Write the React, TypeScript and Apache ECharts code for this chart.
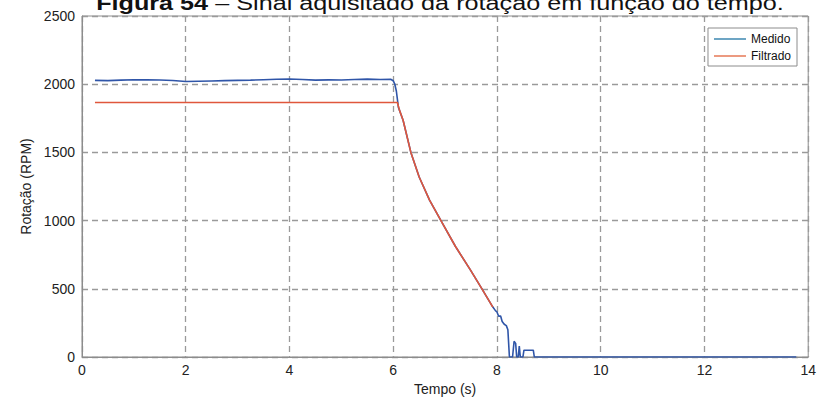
import React, { useEffect, useRef } from "react";
import * as echarts from "echarts";

const titleBold = "Figura 54";
const titleRest = " – Sinal aquisitado da rotação em função do tempo.";
const xAxisName = "Tempo (s)";
const yAxisName = "Rotação (RPM)";
const seriesNames = ["Medido", "Filtrado"];

const medidoTime = [
  0.25, 0.5, 0.75, 1.0, 1.25, 1.5, 1.75, 2.0, 2.25, 2.5, 2.75, 3.0, 3.25, 3.5, 3.75, 4.0,
  4.25, 4.5, 4.75, 5.0, 5.25, 5.5, 5.75, 5.95, 6.0, 6.03, 6.06, 6.1, 6.19, 6.34, 6.5, 6.7,
  6.92, 7.2, 7.49, 7.71, 7.92, 7.97, 8.0, 8.03, 8.07, 8.1, 8.14, 8.18, 8.21, 8.24, 8.3,
  8.33, 8.36, 8.38, 8.41, 8.43, 8.45, 8.5, 8.52, 8.7, 8.72, 13.77,
];
const medidoRpm = [
  2028, 2026, 2030, 2033, 2032, 2031, 2027, 2020, 2022, 2024, 2026, 2028, 2030, 2033, 2036, 2038,
  2034, 2030, 2032, 2031, 2035, 2037, 2035, 2036, 2025, 2000, 1950, 1830, 1736, 1500, 1320, 1150,
  1000, 810, 637, 500, 366, 340, 330, 300, 300, 260, 240, 230, 200, 0, 0,
  115, 100, 0, 0, 80, 0, 0, 50, 50, 0, 0,
];

const filtradoTime = [0.25, 6.08, 6.12, 6.19, 6.34, 6.5, 6.7, 6.92, 7.2, 7.49, 7.71, 7.92];
const filtradoRpm = [1866, 1866, 1810, 1736, 1500, 1320, 1150, 1000, 810, 637, 500, 366];

const xTicks = { min: 0, max: 14, interval: 2 };
const yTicks = { min: 0, max: 2500, interval: 500 };

export default function App() {
  const ref = useRef<HTMLDivElement>(null);
  useEffect(() => {
    if (!ref.current) return;
    const chart = echarts.init(ref.current, undefined, { renderer: "svg" });
    const font = "Arial, 'Liberation Sans', sans-serif";
    const gridLine = { show: true, lineStyle: { color: "#9a9a9a", type: [6, 4], width: 1.3 } };
    chart.setOption({
      animation: false,
      textStyle: { fontFamily: font },
      grid: {
        left: 82, right: 9, top: 16, bottom: 44,
        show: true, borderColor: "#8c8c8c", borderWidth: 1, backgroundColor: "#fff",
      },
      graphic: [
        {
          type: "text",
          x: 440,
          y: 13,
          scaleX: 1.2,
          style: {
            text: "{b|" + titleBold + "}" + titleRest,
            fontSize: 21,
            fontFamily: font,
            fill: "#111",
            textAlign: "center",
            textVerticalAlign: "bottom",
            rich: { b: { fontWeight: "bold", fontSize: 21, fontFamily: font, fill: "#111" } },
          },
        },
      ],
      legend: {
        orient: "vertical",
        right: 22,
        top: 28,
        backgroundColor: "#fff",
        borderColor: "#8c8c8c",
        borderWidth: 1,
        borderRadius: 0,
        padding: [4, 6, 3, 6],
        itemGap: 3,
        itemWidth: 32,
        itemHeight: 2,
        icon: "rect",
        textStyle: { fontSize: 12, color: "#111", fontFamily: font, lineHeight: 14 },
        data: [
          { name: seriesNames[0], itemStyle: { color: "#6da5c4" } },
          { name: seriesNames[1], itemStyle: { color: "#ec9a80" } },
        ],
      },
      xAxis: {
        type: "value",
        ...xTicks,
        name: xAxisName,
        nameLocation: "middle",
        nameGap: 23,
        nameTextStyle: { fontSize: 14, color: "#222", fontFamily: font },
        axisLine: { show: true, lineStyle: { color: "#8c8c8c" } },
        axisTick: { show: false },
        axisLabel: { fontSize: 14, color: "#222", margin: 6, fontFamily: font },
        splitLine: gridLine,
      },
      yAxis: {
        type: "value",
        ...yTicks,
        name: yAxisName,
        nameLocation: "middle",
        nameGap: 47,
        nameTextStyle: { fontSize: 14, color: "#222", fontFamily: font },
        axisLine: { show: true, lineStyle: { color: "#8c8c8c" } },
        axisTick: { show: false },
        axisLabel: {
          fontSize: 14, color: "#222", margin: 7, fontFamily: font,
          formatter: (v: number) => String(v),
        },
        splitLine: gridLine,
      },
      series: [
        {
          name: seriesNames[0],
          type: "line",
          showSymbol: false,
          symbol: "none",
          color: "#6da5c4",
          lineStyle: { color: "#2f55a8", width: 1.6 },
          data: medidoTime.map((t, i) => [t, medidoRpm[i]]),
        },
        {
          name: seriesNames[1],
          type: "line",
          showSymbol: false,
          symbol: "none",
          color: "#ec9a80",
          lineStyle: { color: "#e0573c", width: 1.6 },
          data: filtradoTime.map((t, i) => [t, filtradoRpm[i]]),
        },
      ],
    });
    return () => chart.dispose();
  }, []);
  return <div ref={ref} style={{ width: 819, height: 401, position: "absolute", left: 0, top: 0 }} />;
}
